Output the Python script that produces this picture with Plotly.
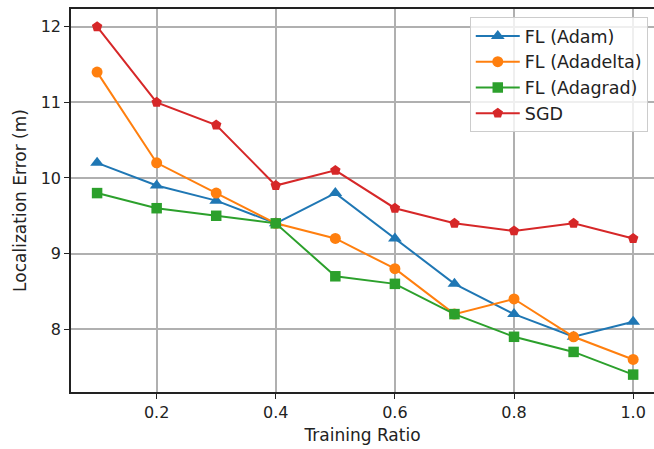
import plotly.graph_objects as go

ratios = [0.1, 0.2, 0.3, 0.4, 0.5, 0.6, 0.7, 0.8, 0.9, 1.0]
fl_adam = [10.2, 9.9, 9.7, 9.4, 9.8, 9.2, 8.6, 8.2, 7.9, 8.1]
fl_adadelta = [11.4, 10.2, 9.8, 9.4, 9.2, 8.8, 8.2, 8.4, 7.9, 7.6]
fl_adagrad = [9.8, 9.6, 9.5, 9.4, 8.7, 8.6, 8.2, 7.9, 7.7, 7.4]
sgd = [12.0, 11.0, 10.7, 9.9, 10.1, 9.6, 9.4, 9.3, 9.4, 9.2]

x_ticks = [0.2, 0.4, 0.6, 0.8, 1.0]
x_tick_labels = ["0.2", "0.4", "0.6", "0.8", "1.0"]
y_ticks = [8, 9, 10, 11, 12]
y_tick_labels = ["8", "9", "10", "11", "12"]

series = [
    ("FL (Adam)", fl_adam, "#1f77b4", "triangle-up", 12),
    ("FL (Adadelta)", fl_adadelta, "#ff7f0e", "circle", 11),
    ("FL (Adagrad)", fl_adagrad, "#2ca02c", "square", 10.5),
    ("SGD", sgd, "#d62728", "pentagon", 11),
]

fig = go.Figure()
for name, vals, color, sym, msize in series:
    fig.add_trace(go.Scatter(
        x=ratios, y=vals, name=name, mode="lines+markers",
        line=dict(color=color, width=2),
        marker=dict(symbol=sym, size=msize, color=color),
    ))

tick_font = dict(family="DejaVu Sans", size=16, color="#222222")
title_font = dict(family="DejaVu Sans", size=17, color="#222222")
fig.update_layout(
    width=654, height=449,
    margin=dict(l=71, r=0, t=9, b=57),
    paper_bgcolor="white", plot_bgcolor="white",
    font=tick_font,
    showlegend=True,
    legend=dict(
        x=0.684, y=0.979, xanchor="left", yanchor="top",
        bgcolor="rgba(255,255,255,0.8)", bordercolor="#cccccc", borderwidth=1,
        font=dict(family="DejaVu Sans", size=17.5, color="#222222"),
        tracegroupgap=0, itemwidth=44,
    ),
    xaxis=dict(
        range=[0.0562, 1.035], tickvals=x_ticks, ticktext=x_tick_labels,
        showgrid=True, gridcolor="#b0b0b0", gridwidth=1.5,
        showline=True, linecolor="#222222", linewidth=1.5, mirror=True,
        ticks="outside", ticklen=5, tickcolor="#222222", tickwidth=1.2,
        zeroline=False, tickfont=tick_font,
        title=dict(text="Training Ratio", standoff=8, font=title_font),
    ),
    yaxis=dict(
        range=[7.17, 12.234], tickvals=y_ticks, ticktext=y_tick_labels,
        showgrid=True, gridcolor="#b0b0b0", gridwidth=1.5,
        showline=True, linecolor="#222222", linewidth=1.5,
        ticks="outside", ticklen=5, tickcolor="#222222", tickwidth=1.2,
        zeroline=False, tickfont=tick_font,
        title=dict(text="Localization Error (m)", standoff=10, font=title_font),
    ),
)
fig.write_html("out.html")
